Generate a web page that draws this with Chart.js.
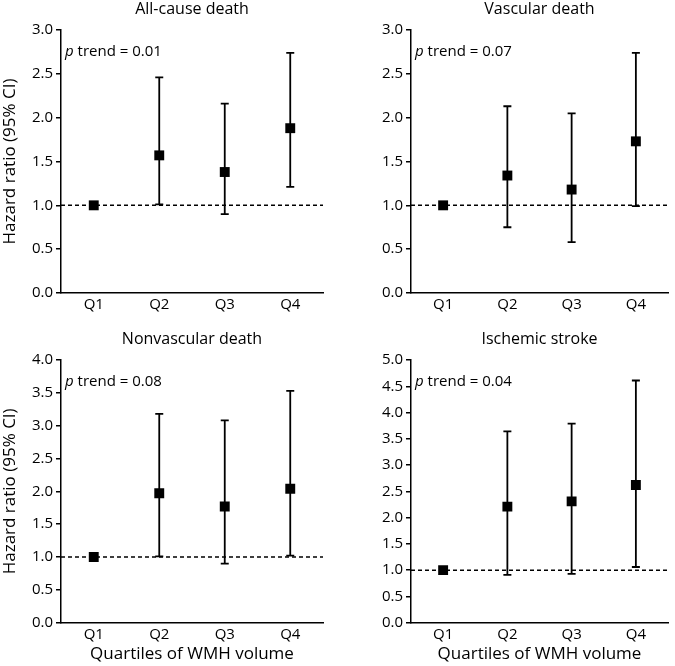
<!DOCTYPE html>
<html>
<head>
<meta charset="utf-8">
<script src="https://cdn.jsdelivr.net/npm/chart.js@4.4.1/dist/chart.umd.min.js"></script>
<style>
  html, body { margin: 0; padding: 0; background: #fff; }
  #wrap { position: relative; width: 675px; height: 666px; }
  canvas { position: absolute; }
</style>
</head>
<body>
<div id="wrap">
  <canvas id="c1" width="337" height="330" style="left:0;top:0"></canvas>
  <canvas id="c2" width="338" height="330" style="left:337px;top:0"></canvas>
  <canvas id="c3" width="337" height="336" style="left:0;top:330px"></canvas>
  <canvas id="c4" width="338" height="336" style="left:337px;top:330px"></canvas>
</div>
<script>
// quartiles of WMH volume
var quartiles = ["Q1", "Q2", "Q3", "Q4"];

// hazard ratios with 95% CI (Q1 is the reference)
var allCauseHR   = [1, 1.57, 1.38, 1.88];
var allCauseLow  = [null, 1.01, 0.90, 1.21];
var allCauseHigh = [null, 2.46, 2.16, 2.74];

var vascularHR   = [1, 1.34, 1.18, 1.73];
var vascularLow  = [null, 0.75, 0.58, 0.99];
var vascularHigh = [null, 2.13, 2.05, 2.74];

var nonvascularHR   = [1, 1.97, 1.77, 2.04];
var nonvascularLow  = [null, 1.01, 0.90, 1.02];
var nonvascularHigh = [null, 3.18, 3.08, 3.53];

var strokeHR   = [1, 2.21, 2.31, 2.62];
var strokeLow  = [null, 0.91, 0.93, 1.06];
var strokeHigh = [null, 3.64, 3.79, 4.61];

var titles = ["All-cause death", "Vascular death", "Nonvascular death", "Ischemic stroke"];
var pTrends = ["0.01", "0.07", "0.08", "0.04"];
var yMax = [3, 3, 4, 5];
var yStep = 0.5;
var referenceHR = 1;

Chart.defaults.font.family = "'Open Sans', sans-serif";
Chart.defaults.color = "#000";

var ciPlugin = {
  id: "ci",
  beforeDatasetsDraw: function(chart, args, opts) {
    var ctx = chart.ctx, x = chart.scales.x, y = chart.scales.y, area = chart.chartArea;
    ctx.save();
    // dashed line at HR = 1
    ctx.strokeStyle = "#000";
    ctx.lineWidth = 1.5;
    ctx.setLineDash([4, 3]);
    ctx.beginPath();
    var yr = y.getPixelForValue(referenceHR);
    ctx.moveTo(area.left, yr);
    ctx.lineTo(area.right, yr);
    ctx.stroke();
    ctx.setLineDash([]);
    // error bars
    ctx.lineWidth = 1.8;
    for (var i = 0; i < opts.low.length; i++) {
      if (opts.low[i] == null) continue;
      var px = x.getPixelForValue(i);
      var lo = y.getPixelForValue(opts.low[i]);
      var hi = y.getPixelForValue(opts.high[i]);
      ctx.beginPath();
      ctx.moveTo(px, lo); ctx.lineTo(px, hi);
      ctx.moveTo(px - 4, lo); ctx.lineTo(px + 4, lo);
      ctx.moveTo(px - 4, hi); ctx.lineTo(px + 4, hi);
      ctx.stroke();
    }
    // p trend label
    ctx.fillStyle = "#000";
    ctx.textBaseline = "middle";
    ctx.font = "italic 15px 'Open Sans', sans-serif";
    var tx = area.left + 4, ty = area.top + 22;
    ctx.fillText("p", tx, ty);
    var w = ctx.measureText("p").width;
    ctx.font = "15px 'Open Sans', sans-serif";
    ctx.fillText(" trend = " + opts.p, tx + w, ty);
    ctx.restore();
  }
};

function makeChart(id, idx, hr, low, high, leftAxis, bottomAxis) {
  new Chart(document.getElementById(id), {
    type: "line",
    data: {
      labels: quartiles,
      datasets: [{
        data: hr,
        showLine: false,
        pointStyle: "rect",
        pointRadius: 7,
        pointHoverRadius: 7,
        pointBackgroundColor: "#000",
        pointBorderWidth: 0
      }]
    },
    plugins: [ciPlugin],
    options: {
      responsive: false,
      animation: false,
      devicePixelRatio: 1,
      layout: { padding: { left: 0, right: leftAxis ? 14 : 2, top: 0, bottom: 0 } },
      plugins: {
        legend: { display: false },
        tooltip: { enabled: false },
        title: {
          display: true,
          text: titles[idx],
          fullSize: false,
          font: { size: 16, weight: "normal" },
          color: "#000",
          padding: { top: 0, bottom: 10.8 }
        },
        ci: { low: low, high: high, p: pTrends[idx] }
      },
      scales: {
        x: {
          offset: true,
          grid: { display: true, drawOnChartArea: false, drawTicks: false },
          border: { display: true, color: "#000", width: 1.5 },
          ticks: { font: { size: 15 }, color: "#000", padding: 3 },
          title: {
            display: bottomAxis,
            text: "Quartiles of WMH volume",
            font: { size: 17 },
            color: "#000",
            padding: { top: 0, bottom: 2 }
          },
          afterFit: function(s) { s.height = bottomAxis ? 43.3 : 37; }
        },
        y: {
          min: 0,
          max: yMax[idx],
          grid: { display: true, drawOnChartArea: false, drawTicks: true, tickLength: 5, color: "#000", lineWidth: 1.5 },
          border: { display: true, color: "#000", width: 1.5 },
          ticks: {
            stepSize: yStep,
            font: { size: 15 },
            color: "#000",
            padding: 3,
            callback: function(v) { return v.toFixed(1); }
          },
          title: {
            display: leftAxis,
            text: "Hazard ratio (95% CI)",
            font: { size: 17 },
            color: "#000",
            padding: { top: 0, bottom: 0 }
          },
          afterFit: function(s) { s.width = leftAxis ? 61 : 74; }
        }
      }
    }
  });
}

makeChart("c1", 0, allCauseHR, allCauseLow, allCauseHigh, true, false);
makeChart("c2", 1, vascularHR, vascularLow, vascularHigh, false, false);
makeChart("c3", 2, nonvascularHR, nonvascularLow, nonvascularHigh, true, true);
makeChart("c4", 3, strokeHR, strokeLow, strokeHigh, false, true);
</script>
</body>
</html>
